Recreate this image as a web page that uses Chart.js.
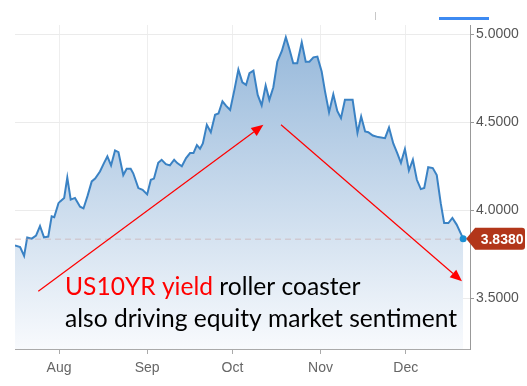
<!DOCTYPE html>
<html>
<head>
<meta charset="utf-8">
<title>US10YR</title>
<script src="https://cdn.jsdelivr.net/npm/chart.js@4.4.0/dist/chart.umd.min.js"></script>
<style>
  html, body { margin: 0; padding: 0; background: #fff; }
</style>
</head>
<body>
<canvas id="chart" width="527" height="386"></canvas>
<script>
// days counted from 1 Aug, yield in %
const dayOffsets = [
  -15.5, -13.7, -12.3, -11.2, -9.6, -8.1, -6.7, -5.3, -3.8, -2.6,
  -1.7, -0.2, 0.4, 1.8, 2.9, 4.1, 5.6, 7.4, 8.6, 10.0,
  11.5, 12.7, 14.4, 15.8, 17.0, 18.3, 19.7, 20.9, 22.6, 23.8,
  25.2, 26.1, 27.9, 29.4, 31.0, 32.3, 33.4, 34.9, 36.1, 37.6,
  39.0, 40.5, 41.6, 43.2, 44.7, 46.1, 47.3, 48.5, 49.6, 50.6,
  52.0, 53.4, 54.9, 56.1, 57.5, 58.8, 60.2, 61.7, 63.1, 64.5,
  65.8, 67.0, 68.4, 69.9, 71.3, 72.7, 74.0, 75.4, 76.8, 78.4,
  79.8, 81.0, 82.4, 83.8, 85.4, 86.8, 88.1, 89.5, 90.9, 92.4,
  93.6, 95.0, 96.5, 97.9, 99.2, 100.6, 102.0, 103.3, 105.0, 106.3,
  107.7, 108.8, 110.4, 112.3, 114.7, 116.1, 117.6, 119.0, 120.3, 121.7,
  123.1, 124.5, 125.9, 127.3, 128.5, 129.9, 131.5, 132.9, 134.3, 135.5,
  137.0, 138.4, 139.9, 142.2
];
const yields = [
  3.80, 3.79, 3.74, 3.845, 3.838, 3.855, 3.91, 3.845, 3.85, 3.965,
  3.96, 4.04, 4.05, 4.07, 4.186, 4.06, 4.07, 4.02, 4.01, 4.08,
  4.164, 4.18, 4.22, 4.268, 4.306, 4.255, 4.34, 4.33, 4.20, 4.236,
  4.236, 4.21, 4.126, 4.116, 4.09, 4.173, 4.18, 4.27, 4.287, 4.262,
  4.255, 4.287, 4.268, 4.25, 4.297, 4.325, 4.325, 4.37, 4.35, 4.38,
  4.486, 4.444, 4.543, 4.55, 4.62, 4.594, 4.57, 4.685, 4.80, 4.728,
  4.713, 4.78, 4.794, 4.656, 4.596, 4.71, 4.628, 4.70, 4.845, 4.906,
  4.984, 4.92, 4.836, 4.836, 4.955, 4.845, 4.845, 4.87, 4.874, 4.79,
  4.675, 4.558, 4.66, 4.565, 4.524, 4.628, 4.628, 4.628, 4.44, 4.533,
  4.448, 4.444, 4.425, 4.416, 4.41, 4.47, 4.38, 4.325, 4.27, 4.348,
  4.226, 4.287, 4.173, 4.12, 4.126, 4.245, 4.24, 4.20, 4.04, 3.927,
  3.927, 3.956, 3.918, 3.838
];
const monthTicks = [0, 31, 61, 92, 122];
const monthLabels = ['Aug', 'Sep', 'Oct', 'Nov', 'Dec'];
const yTicks = [3.5, 4.0, 4.5, 5.0];

// annotation arrows in data units: [fromDay, fromYield, toDay, toYield]
const arrows = [
  [-7.3, 3.539, 71.9, 4.486],
  [78.1, 4.486, 141.8, 3.595]
];
const captionRed = 'US10YR yield';
const captionLine1 = ' roller coaster';
const captionLine2 = 'also driving equity market sentiment';

const lastIdx = yields.length - 1;
const lastValue = yields[lastIdx];
const axisFont = { family: 'Liberation Sans, Arial, sans-serif', size: 14 };

function drawArrow(ctx, x1, y1, x2, y2) {
  const ang = Math.atan2(y2 - y1, x2 - x1);
  const len = 12, half = 5;
  const bx = x2 - len * Math.cos(ang), by = y2 - len * Math.sin(ang);
  ctx.beginPath();
  ctx.moveTo(x1, y1);
  ctx.lineTo(bx, by);
  ctx.stroke();
  ctx.beginPath();
  ctx.moveTo(x2, y2);
  ctx.lineTo(bx + half * Math.sin(ang), by - half * Math.cos(ang));
  ctx.lineTo(bx - half * Math.sin(ang), by + half * Math.cos(ang));
  ctx.closePath();
  ctx.fill();
}

const overlay = {
  id: 'overlay',
  afterDraw(chart) {
    const { ctx, chartArea: a, scales: { x, y } } = chart;
    const lastX = x.getPixelForValue(dayOffsets[lastIdx]);
    const lastY = y.getPixelForValue(lastValue);
    ctx.save();

    // range selector remnants at the top
    ctx.fillStyle = '#c8c8c8';
    ctx.fillRect(375, 12, 1, 8);
    ctx.fillStyle = '#3d8af2';
    ctx.fillRect(439, 17, 50, 3);

    // last price dashed line
    ctx.setLineDash([6, 4]);
    ctx.strokeStyle = 'rgba(200,165,165,0.6)';
    ctx.lineWidth = 1;
    ctx.beginPath();
    ctx.moveTo(a.left, lastY + 0.5);
    ctx.lineTo(lastX, lastY + 0.5);
    ctx.stroke();
    ctx.setLineDash([]);

    // end dot
    ctx.fillStyle = '#1b8fd3';
    ctx.beginPath();
    ctx.arc(lastX, lastY, 3.5, 0, Math.PI * 2);
    ctx.fill();

    // price tag
    const tl = lastX + 3, body = lastX + 12, r = 3, right = 525;
    ctx.fillStyle = '#b2361a';
    ctx.beginPath();
    ctx.moveTo(tl, lastY);
    ctx.lineTo(body, lastY - 11);
    ctx.lineTo(right - r, lastY - 11);
    ctx.quadraticCurveTo(right, lastY - 11, right, lastY - 11 + r);
    ctx.lineTo(right, lastY + 11 - r);
    ctx.quadraticCurveTo(right, lastY + 11, right - r, lastY + 11);
    ctx.lineTo(body, lastY + 11);
    ctx.closePath();
    ctx.fill();
    ctx.fillStyle = '#fff';
    ctx.font = 'bold 14px Liberation Sans, Arial, sans-serif';
    ctx.textAlign = 'center';
    ctx.textBaseline = 'middle';
    ctx.fillText(lastValue.toFixed(4), (body + right) / 2 + 2, lastY + 1);

    // red arrows
    ctx.strokeStyle = '#ff0000';
    ctx.fillStyle = '#ff0000';
    ctx.lineWidth = 1.2;
    arrows.forEach(([d1, v1, d2, v2]) => {
      drawArrow(ctx, x.getPixelForValue(d1), y.getPixelForValue(v1),
        x.getPixelForValue(d2), y.getPixelForValue(v2));
    });

    // caption
    const fam = 'Lato, sans-serif';
    ctx.font = '24px ' + fam;
    const size = 24 * 392 / ctx.measureText(captionLine2).width;
    ctx.font = size.toFixed(2) + 'px ' + fam;
    ctx.textAlign = 'left';
    ctx.textBaseline = 'alphabetic';
    const tx = a.left + 50;
    ctx.fillStyle = '#ff0000';
    ctx.fillText(captionRed, tx, a.bottom - 54);
    ctx.fillStyle = '#000';
    ctx.fillText(captionLine1, tx + ctx.measureText(captionRed).width, a.bottom - 54);
    ctx.fillText(captionLine2, tx, a.bottom - 22);

    ctx.restore();
  }
};

new Chart(document.getElementById('chart'), {
  type: 'line',
  data: {
    datasets: [{
      data: dayOffsets.map((d, i) => ({ x: d, y: yields[i] })),
      borderColor: '#3a82c4',
      borderWidth: 2,
      tension: 0,
      pointRadius: 0,
      fill: 'start',
      backgroundColor: (c) => {
        const area = c.chart.chartArea;
        if (!area) return 'rgba(150,185,220,0.5)';
        const g = c.chart.ctx.createLinearGradient(0, area.top, 0, area.bottom);
        g.addColorStop(0, '#93b6d9');
        g.addColorStop(1, '#f8fafd');
        return g;
      }
    }]
  },
  options: {
    responsive: false,
    animation: false,
    devicePixelRatio: 1,
    layout: { padding: { left: 15, top: 25, right: 0, bottom: 0 } },
    plugins: { legend: { display: false }, tooltip: { enabled: false } },
    scales: {
      x: {
        type: 'linear',
        min: -15.5,
        max: 144.6,
        afterBuildTicks: (s) => { s.ticks = monthTicks.map(v => ({ value: v })); },
        afterFit: (s) => { s.height = 37; },
        ticks: {
          autoSkip: false,
          maxRotation: 0,
          color: '#666',
          font: axisFont,
          padding: 6,
          callback: (v) => monthLabels[monthTicks.indexOf(v)]
        },
        grid: { color: '#eeeeee', tickColor: '#aaaaaa', tickLength: 5 },
        border: { color: '#aaaaaa' }
      },
      y: {
        position: 'right',
        min: 3.21,
        max: 5.054,
        afterBuildTicks: (s) => { s.ticks = yTicks.map(v => ({ value: v })); },
        afterFit: (s) => { s.width = 57; },
        ticks: {
          color: '#555',
          font: axisFont,
          padding: 2,
          callback: (v) => Number(v).toFixed(4)
        },
        grid: { color: '#ebebeb', tickColor: '#999999', tickLength: 4 },
        border: { color: '#999999' }
      }
    }
  },
  plugins: [overlay]
});
</script>
</body>
</html>
